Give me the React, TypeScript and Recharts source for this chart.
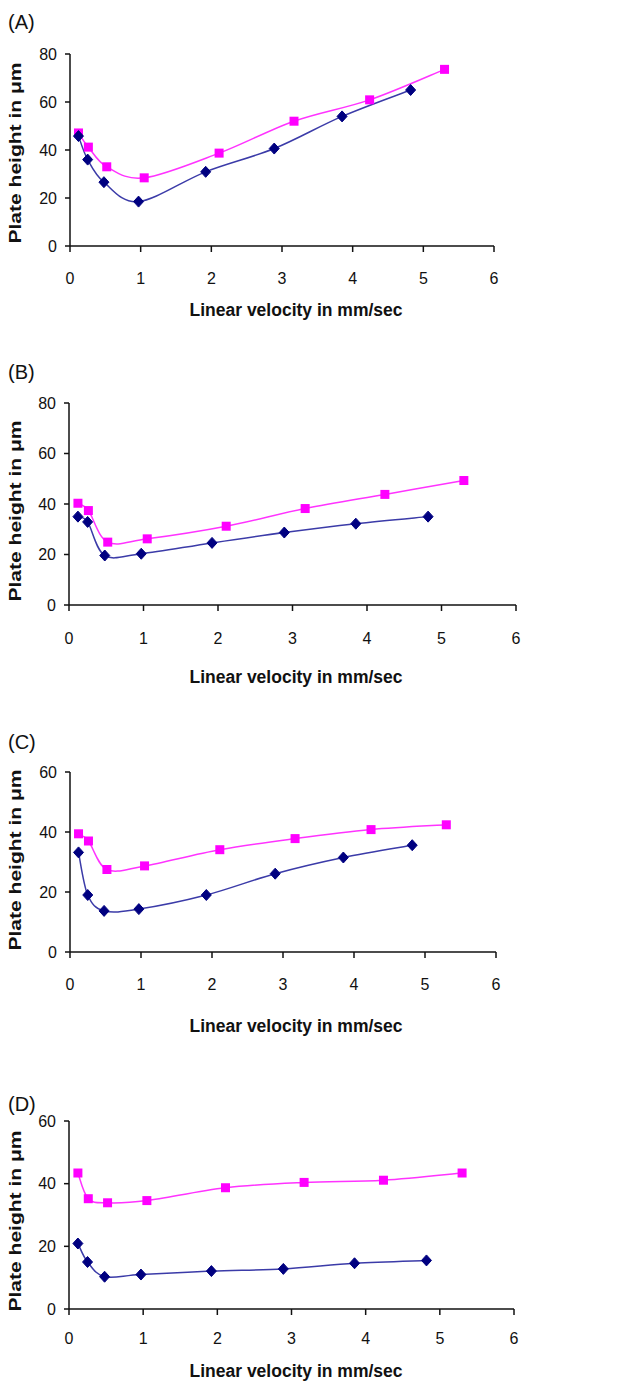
import React from 'react';
import { LineChart, Line, XAxis, YAxis } from 'recharts';

// velocities are the same for every panel
const diamondVelocity = [0.12, 0.25, 0.48, 0.97, 1.92, 2.89, 3.85, 4.82];
const squareVelocity = [0.12, 0.26, 0.52, 1.05, 2.11, 3.17, 4.24, 5.30];

const aDiamondHeight = [45.8, 36.0, 26.6, 18.5, 30.9, 40.6, 54.0, 65.0];
const aSquareHeight = [47.1, 41.2, 33.0, 28.4, 38.7, 52.0, 60.9, 73.6];
const bDiamondHeight = [35.0, 32.9, 19.6, 20.3, 24.6, 28.7, 32.2, 35.0];
const bSquareHeight = [40.3, 37.4, 24.9, 26.2, 31.2, 38.2, 43.8, 49.3];
const cDiamondHeight = [33.2, 19.0, 13.7, 14.3, 19.0, 26.1, 31.5, 35.6];
const cSquareHeight = [39.4, 37.0, 27.5, 28.7, 34.1, 37.8, 40.8, 42.4];
const dDiamondHeight = [20.9, 15.0, 10.3, 11.0, 12.1, 12.8, 14.6, 15.5];
const dSquareHeight = [43.4, 35.2, 33.9, 34.6, 38.7, 40.4, 41.1, 43.4];

const xTicks = [0, 1, 2, 3, 4, 5, 6];
const yTicks80 = [0, 20, 40, 60, 80];
const yTicks60 = [0, 20, 40, 60];

const xTitle = 'Linear velocity in mm/sec';
const yTitle = 'Plate height in μm';

const FONT = 'Arial, "Liberation Sans", sans-serif';

const toPoints = (xs: number[], ys: number[]) => xs.map((x, i) => ({ x, y: ys[i] }));

// Excel-like smoothed line (Catmull-Rom through the points)
const smooth = (context: any) => {
  let pts: number[][] = [];
  return {
    areaStart() {},
    areaEnd() {},
    lineStart() {
      pts = [];
    },
    point(x: number, y: number) {
      pts.push([+x, +y]);
    },
    lineEnd() {
      if (!pts.length) return;
      context.moveTo(pts[0][0], pts[0][1]);
      for (let i = 0; i < pts.length - 1; i++) {
        const p0 = pts[i - 1] || pts[i];
        const p1 = pts[i];
        const p2 = pts[i + 1];
        const p3 = pts[i + 2] || p2;
        context.bezierCurveTo(
          p1[0] + (p2[0] - p0[0]) / 6,
          p1[1] + (p2[1] - p0[1]) / 6,
          p2[0] - (p3[0] - p1[0]) / 6,
          p2[1] - (p3[1] - p1[1]) / 6,
          p2[0],
          p2[1]
        );
      }
    },
  };
};

const renderDiamond = (p: any) => {
  const { cx, cy, index } = p;
  if (cx == null || cy == null) return <g key={`d-${index}`} />;
  return (
    <polygon
      key={`d-${index}`}
      points={`${cx},${cy - 5.5} ${cx + 5},${cy} ${cx},${cy + 5.5} ${cx - 5},${cy}`}
      fill="#000080"
      stroke="#000080"
    />
  );
};

const renderSquare = (p: any) => {
  const { cx, cy, index } = p;
  if (cx == null || cy == null) return <g key={`s-${index}`} />;
  return <rect key={`s-${index}`} x={cx - 4.5} y={cy - 4.5} width={9} height={9} fill="#ff00ff" />;
};

const panels = [
  {
    letter: '(A)', top: 0, height: 340, letterY: 29,
    margin: { top: 54, left: 30, right: 140, bottom: 64 },
    yMax: 80, yTicks: yTicks80, tickGap: 21, xTitleY: 316, yTitleY: 153,
    diamond: toPoints(diamondVelocity, aDiamondHeight),
    square: toPoints(squareVelocity, aSquareHeight),
  },
  {
    letter: '(B)', top: 340, height: 350, letterY: 379,
    margin: { top: 63, left: 29, right: 118, bottom: 55 },
    yMax: 80, yTicks: yTicks80, tickGap: 22, xTitleY: 343, yTitleY: 171,
    diamond: toPoints(diamondVelocity, bDiamondHeight),
    square: toPoints(squareVelocity, bSquareHeight),
  },
  {
    letter: '(C)', top: 690, height: 348, letterY: 749,
    margin: { top: 82, left: 30, right: 138, bottom: 56 },
    yMax: 60, yTicks: yTicks60, tickGap: 21, xTitleY: 342, yTitleY: 170,
    diamond: toPoints(diamondVelocity, cDiamondHeight),
    square: toPoints(squareVelocity, cSquareHeight),
  },
  {
    letter: '(D)', top: 1038, height: 345, letterY: 1111,
    margin: { top: 83, left: 29, right: 120, bottom: 44 },
    yMax: 60, yTicks: yTicks60, tickGap: 18, xTitleY: 339, yTitleY: 183,
    diamond: toPoints(diamondVelocity, dDiamondHeight),
    square: toPoints(squareVelocity, dSquareHeight),
  },
];

const Panel = ({ cfg }: any) => {
  const tickStyle = { fill: '#111', fontSize: 16, fontFamily: FONT };
  return (
    <div style={{ position: 'absolute', left: 0, top: cfg.top }}>
      <LineChart width={634} height={cfg.height} margin={cfg.margin}>
        <XAxis
          type="number"
          dataKey="x"
          domain={[0, 6]}
          ticks={xTicks}
          interval={0}
          height={30}
          tickSize={6}
          tickMargin={cfg.tickGap}
          stroke="#111"
          strokeWidth={1.5}
          fontSize={16}
          fontFamily={FONT}
          tick={tickStyle}
          label={{
            content: () => (
              <text
                x={296}
                y={cfg.xTitleY}
                textAnchor="middle"
                fontFamily={FONT}
                fontWeight="bold"
                fontSize={18}
                textLength={213}
                lengthAdjust="spacingAndGlyphs"
                fill="#111"
              >
                {xTitle}
              </text>
            ),
          }}
        />
        <YAxis
          type="number"
          domain={[0, cfg.yMax]}
          ticks={cfg.yTicks}
          interval={0}
          width={40}
          tickSize={5}
          tickMargin={8}
          stroke="#111"
          strokeWidth={1.5}
          fontSize={16}
          fontFamily={FONT}
          tick={tickStyle}
          label={{
            content: () => (
              <text
                x={21}
                y={cfg.yTitleY}
                transform={`rotate(-90 21 ${cfg.yTitleY})`}
                textAnchor="middle"
                fontFamily={FONT}
                fontWeight="bold"
                fontSize={17}
                textLength={181}
                lengthAdjust="spacingAndGlyphs"
                fill="#111"
              >
                {yTitle}
              </text>
            ),
          }}
        />
        <Line
          data={cfg.square}
          dataKey="y"
          type={smooth as any}
          stroke="#ff33ff"
          strokeWidth={1.5}
          dot={renderSquare}
          activeDot={false}
          isAnimationActive={false}
        />
        <Line
          data={cfg.diamond}
          dataKey="y"
          type={smooth as any}
          stroke="#3b3ba8"
          strokeWidth={1.5}
          dot={renderDiamond}
          activeDot={false}
          isAnimationActive={false}
        />
      </LineChart>
      <div
        style={{
          position: 'absolute',
          left: 8,
          top: cfg.letterY - cfg.top - 17,
          fontSize: 20,
          lineHeight: '20px',
          fontFamily: FONT,
          color: '#111',
        }}
      >
        {cfg.letter}
      </div>
    </div>
  );
};

const App: React.FC = () => {
  return (
    <div style={{ position: 'absolute', left: 0, top: 0, width: 634, height: 1383, background: '#fff' }}>
      {panels.map((p) => (
        <Panel key={p.letter} cfg={p} />
      ))}
    </div>
  );
};

export default App;
